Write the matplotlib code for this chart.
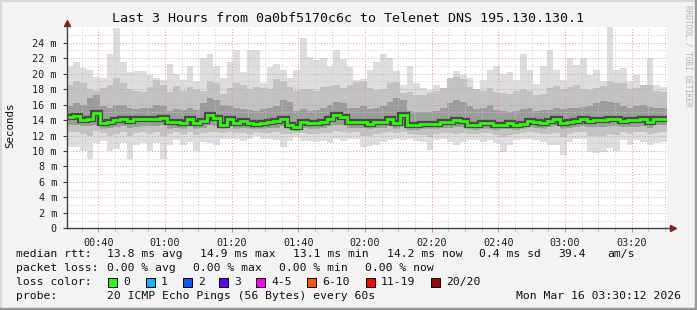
import numpy as np
import matplotlib
matplotlib.use("Agg")
import matplotlib.pyplot as plt
from matplotlib.patches import Rectangle

# --- datos (ms), un valor cada 2 minutos desde 00:30:30 ---
inicio = 30.5   # minutos desde 00:00
paso = 2

mediana = [14.4, 14.5, 14.0, 14.2, 14.9, 13.6, 13.8, 14.0, 14.2, 13.9,
           14.1, 14.1, 14.2, 14.2, 14.3, 13.7, 13.8, 13.6, 14.1, 13.6,
           13.9, 14.7, 14.3, 13.4, 14.2, 13.6, 13.9, 13.6, 13.5, 13.6,
           13.8, 13.9, 14.2, 13.4, 13.1, 13.8, 13.6, 13.6, 13.8, 14.1,
           14.6, 14.4, 13.8, 13.8, 13.8, 13.5, 13.8, 13.8, 14.2, 13.6,
           14.6, 13.3, 13.3, 13.5, 13.5, 13.5, 13.8, 13.8, 14.0, 13.9,
           13.4, 13.3, 13.6, 13.6, 13.3, 13.4, 13.6, 13.3, 13.5, 13.9,
           13.8, 13.6, 13.9, 14.2, 13.6, 13.7, 13.9, 14.1, 13.9, 14.0,
           14.0, 14.1, 14.2, 13.9, 14.0, 14.0, 14.1, 13.8, 14.2, 14.2]

maximo = [21.0, 21.5, 20.7, 20.5, 19.6, 19.4, 22.5, 25.9, 21.5, 20.2,
          20.3, 20.4, 19.8, 19.5, 19.2, 21.2, 20.0, 19.2, 21.0, 19.0,
          22.0, 22.5, 21.0, 19.4, 21.5, 23.0, 20.2, 23.0, 23.1, 18.8,
          20.9, 21.3, 20.5, 19.4, 20.5, 24.6, 22.2, 21.8, 22.0, 21.0,
          23.1, 21.9, 20.9, 19.2, 19.3, 20.5, 21.5, 22.5, 22.0, 20.3,
          18.5, 21.0, 18.8, 18.2, 17.9, 18.5, 17.7, 19.5, 20.3, 19.8,
          19.5, 17.9, 19.2, 20.5, 21.0, 20.0, 20.2, 19.2, 22.5, 20.5,
          18.7, 21.0, 23.0, 20.5, 19.2, 22.0, 21.1, 22.0, 19.8, 20.5,
          19.0, 26.0, 20.5, 20.7, 19.0, 19.8, 18.3, 22.0, 18.5, 18.3]

minimo = [10.5, 10.5, 10.0, 9.0, 11.0, 11.3, 10.0, 10.2, 11.0, 9.0,
          10.8, 11.0, 10.0, 11.0, 9.0, 10.8, 11.4, 10.8, 11.2, 10.0,
          11.1, 11.0, 10.8, 11.6, 11.6, 11.6, 11.3, 11.5, 11.9, 11.6,
          11.5, 11.4, 10.5, 11.3, 11.8, 11.3, 11.3, 11.1, 11.3, 11.0,
          11.5, 11.3, 11.5, 11.6, 10.5, 10.6, 10.8, 11.2, 11.4, 11.5,
          11.4, 11.6, 11.3, 11.1, 10.1, 11.4, 11.6, 11.2, 10.8, 11.2,
          11.4, 11.4, 11.2, 11.4, 11.0, 9.9, 10.8, 11.4, 11.6, 11.5,
          11.4, 11.2, 10.8, 10.8, 9.5, 11.2, 11.6, 11.6, 9.9, 9.7,
          9.9, 10.4, 10.0, 11.4, 10.8, 11.4, 11.2, 10.8, 11.0, 11.1]

p80 = [18.5, 19.0, 18.8, 18.0, 17.8, 18.2, 18.5, 19.5, 18.8, 18.0, 17.8, 17.6, 18.3, 19.2, 18.5, 17.6, 18.4, 17.8,
       18.3, 18.0, 17.8, 19.0, 18.8, 17.4, 18.2, 18.8, 18.5, 18.0, 18.3, 18.2, 18.0, 19.3, 19.0, 18.3, 17.8, 18.0,
       18.0, 17.8, 18.3, 18.4, 18.6, 18.2, 18.5, 18.9, 19.0, 18.2, 17.9, 18.0, 18.8, 18.9, 17.5, 17.6, 17.2, 17.3,
       17.5, 17.8, 18.2, 19.5, 19.6, 19.3, 18.3, 18.0, 17.8, 18.2, 17.6, 17.5, 17.4, 17.8, 18.0, 17.8, 17.2, 17.4,
       18.2, 18.4, 18.0, 18.3, 18.6, 18.0, 17.9, 18.2, 18.4, 19.0, 18.8, 18.8, 18.0, 18.1, 18.5, 18.6, 17.8, 17.6]

p65 = [15.8, 16.2, 16.0, 16.8, 17.2, 15.8, 15.6, 16.0, 15.9, 15.6, 15.4, 15.5, 15.6, 16.0, 15.8, 15.2, 15.4, 15.3,
       15.6, 15.3, 16.2, 16.8, 16.6, 16.0, 15.8, 15.6, 15.4, 15.3, 15.2, 15.4, 15.5, 15.8, 16.6, 16.4, 15.2, 15.4,
       15.2, 15.3, 15.6, 16.0, 16.4, 16.2, 15.6, 15.5, 15.8, 15.4, 15.6, 15.8, 16.4, 16.8, 16.6, 15.2, 15.0, 15.1,
       15.0, 15.2, 15.6, 16.2, 16.6, 16.4, 15.8, 15.4, 15.6, 16.0, 15.3, 15.2, 15.0, 15.2, 15.4, 15.6, 15.2, 15.3,
       15.3, 15.6, 15.4, 15.5, 15.6, 15.7, 15.8, 16.2, 16.5, 16.4, 16.2, 15.8, 15.6, 15.8, 16.0, 15.7, 15.5, 15.6]

p35 = [13.3, 13.4, 13.2, 13.2, 13.4, 12.9, 13.0, 13.1, 13.2, 13.0, 13.1, 13.2, 13.2, 13.2, 13.3, 12.9, 13.0, 12.9,
       13.2, 12.9, 13.0, 13.4, 13.2, 12.8, 13.2, 12.9, 13.0, 12.9, 12.9, 12.9, 13.0, 13.0, 13.2, 12.8, 12.6, 13.0,
       12.9, 12.9, 13.0, 13.2, 13.4, 13.3, 13.0, 13.0, 13.0, 12.8, 13.0, 13.0, 13.2, 12.9, 13.3, 12.7, 12.7, 12.8,
       12.8, 12.8, 13.0, 13.0, 13.1, 13.1, 12.8, 12.7, 12.9, 12.9, 12.7, 12.8, 12.9, 12.7, 12.8, 13.1, 13.0, 12.9,
       13.1, 13.2, 12.9, 13.0, 13.1, 13.2, 13.1, 13.1, 13.1, 13.2, 13.2, 13.1, 13.1, 13.1, 13.2, 13.0, 13.3, 13.3]

p20 = [12.4, 12.5, 12.2, 12.0, 12.6, 12.3, 12.0, 12.2, 12.4, 12.0, 12.3, 12.4, 12.2, 12.4, 12.0, 12.2, 12.4, 12.2,
       12.4, 12.1, 12.3, 12.5, 12.4, 12.3, 12.5, 12.3, 12.3, 12.2, 12.4, 12.3, 12.3, 12.4, 12.2, 12.2, 12.3, 12.3,
       12.2, 12.2, 12.3, 12.3, 12.6, 12.5, 12.3, 12.4, 12.0, 12.0, 12.2, 12.3, 12.4, 12.3, 12.5, 12.2, 12.1, 12.1,
       11.8, 12.2, 12.3, 12.3, 12.2, 12.3, 12.2, 12.2, 12.3, 12.3, 12.1, 11.8, 12.1, 12.2, 12.3, 12.4, 12.3, 12.2,
       12.2, 12.3, 11.8, 12.2, 12.4, 12.4, 12.0, 11.9, 12.0, 12.2, 12.1, 12.4, 12.2, 12.4, 12.4, 12.2, 12.3, 12.4]

horas = ["00:40", "01:00", "01:20", "01:40", "02:00", "02:20", "02:40", "03:00", "03:20"]
horas_min = [40, 60, 80, 100, 120, 140, 160, 180, 200]

perdida_txt = ["0", "1", "2", "3", "4-5", "6-10", "11-19", "20/20"]
perdida_col = ["#26ff00", "#00b8ff", "#0059ff", "#5e00ff", "#ff00ff", "#ff5500", "#ff0000", "#a10000"]

W, H = 697, 310
MONO = "DejaVu Sans Mono"

fig = plt.figure(figsize=(W / 100, H / 100), dpi=100, facecolor="#f3f3f3")


def px(x, y):
    return x / W, 1 - y / H


# borde de la imagen
fig.add_artist(plt.Line2D([0, 1], [1 - 1 / H, 1 - 1 / H], color="#d8d8d8", lw=1.5, transform=fig.transFigure))
fig.add_artist(plt.Line2D([1 / W, 1 / W], [0, 1], color="#d8d8d8", lw=1.5, transform=fig.transFigure))
fig.add_artist(plt.Line2D([0, 1], [1.5 / H, 1.5 / H], color="#9a9a9a", lw=2.5, transform=fig.transFigure))
fig.add_artist(plt.Line2D([1 - 1.5 / W, 1 - 1.5 / W], [0, 1], color="#9a9a9a", lw=2.5, transform=fig.transFigure))

x0, y0 = 66.7, 228.3
ax = fig.add_axes([x0 / W, 1 - y0 / H, 600 / W, 201 / H])
ax.set_facecolor("white")
ax.set_xlim(inicio, inicio + 180)
ax.set_ylim(0, 26)

bordes = inicio + paso * np.arange(len(mediana) + 1)

# humo: bandas de grises
ax.stairs(maximo, bordes, baseline=minimo, fill=True, color="#dddddd", lw=0)
ax.stairs(p80, bordes, baseline=p20, fill=True, color="#c2c2c2", lw=0)
ax.stairs(p65, bordes, baseline=p35, fill=True, color="#9c9c9c", lw=0)
ax.stairs(mediana, bordes, baseline=None, color="#4a4a4a", lw=4.5, zorder=3)
ax.stairs(mediana, bordes, baseline=None, color="#26ff00", lw=2.0, zorder=4)

# rejilla
ax.set_xticks(horas_min)
ax.set_xticklabels(horas)
ax.set_xticks(np.arange(35, 211, 5), minor=True)
ax.set_yticks(np.arange(0, 26, 2))
ax.set_yticklabels(["0"] + [f"{v} m" for v in range(2, 26, 2)])
ax.set_yticks(np.arange(1, 26, 1), minor=True)
ax.set_axisbelow(False)
ax.grid(which="minor", color="#c8c8c8", lw=0.7, ls=(0, (1, 2)))
ax.grid(which="major", color="#f09090", lw=0.7, ls=(0, (1, 2)))

for lab in ax.get_xticklabels() + ax.get_yticklabels():
    lab.set_family(MONO)
    lab.set_fontsize(7.3)
    lab.set_color("#202020")
ax.tick_params(axis="x", which="major", length=3, color="#f08080", pad=4)
ax.tick_params(axis="x", which="minor", length=2, color="#b0b0b0")
ax.tick_params(axis="y", which="major", length=3, color="#404040", pad=4)
ax.tick_params(axis="y", which="minor", length=0)

for s in ["top", "right", "left", "bottom"]:
    ax.spines[s].set_visible(False)

# ejes con flecha
ax.plot([0, 0], [0, 1.02], color="#404040", lw=1, transform=ax.transAxes, clip_on=False, zorder=5)
ax.plot([0, 1.008], [0, 0], color="#404040", lw=1, transform=ax.transAxes, clip_on=False, zorder=5)
ax.plot([0], [1.022], marker="^", ms=4.5, color="#8b1a1a", transform=ax.transAxes, clip_on=False, zorder=6)
ax.plot([1.011], [0], marker=">", ms=4.5, color="#8b1a1a", transform=ax.transAxes, clip_on=False, zorder=6)

# textos
fig.text(*px(348, 19), "Last 3 Hours from 0a0bf5170c6c to Telenet DNS 195.130.130.1",
         ha="center", va="center", family=MONO, fontsize=9.6, color="#101010")
fig.text(*px(10, 125), "Seconds", rotation=90, ha="center", va="center", family=MONO,
         fontsize=7.8, color="#101010")
fig.text(*px(688, 5), "RRDTOOL / TOBI OETIKER", rotation=270, ha="center", va="top", family=MONO,
         fontsize=5.6, color="#b4b4b4")

fs = 8.2
lin = [254, 268, 282, 296]

fila1 = [(16, "median rtt:"), (107, "13.8 ms avg"), (200, "14.9 ms max"), (293, "13.1 ms min"),
         (387, "14.2 ms now"), (479, "0.4 ms sd"), (558, "39.4"), (607, "am/s")]
fila2 = [(16, "packet loss:"), (107, "0.00 % avg"), (193, "0.00 % max"), (279, "0.00 % min"),
         (365, "0.00 % now")]
for x, t in fila1:
    fig.text(*px(x, lin[0]), t, va="center", family=MONO, fontsize=fs, color="#101010")
for x, t in fila2:
    fig.text(*px(x, lin[1]), t, va="center", family=MONO, fontsize=fs, color="#101010")

fig.text(*px(16, lin[2]), "loss color:", va="center", family=MONO, fontsize=fs, color="#101010")
cajas_x = [108, 146, 183, 219, 256, 307, 366, 431]
for cx, t, c in zip(cajas_x, perdida_txt, perdida_col):
    fig.add_artist(Rectangle(px(cx, lin[2] + 4.5), 9 / W, 9 / H, transform=fig.transFigure,
                             facecolor=c, edgecolor="black", lw=0.7))
    fig.text(*px(cx + 15, lin[2]), t, va="center", family=MONO, fontsize=fs, color="#101010")

fig.text(*px(16, lin[3]), "probe:", va="center", family=MONO, fontsize=fs, color="#101010")
fig.text(*px(107, lin[3]), "20 ICMP Echo Pings (56 Bytes) every 60s", va="center", family=MONO,
         fontsize=fs, color="#101010")
fig.text(*px(681, lin[3]), "Mon Mar 16 03:30:12 2026", ha="right", va="center", family=MONO,
         fontsize=fs, color="#101010")

fig.savefig("out.png", dpi=100, facecolor=fig.get_facecolor())
